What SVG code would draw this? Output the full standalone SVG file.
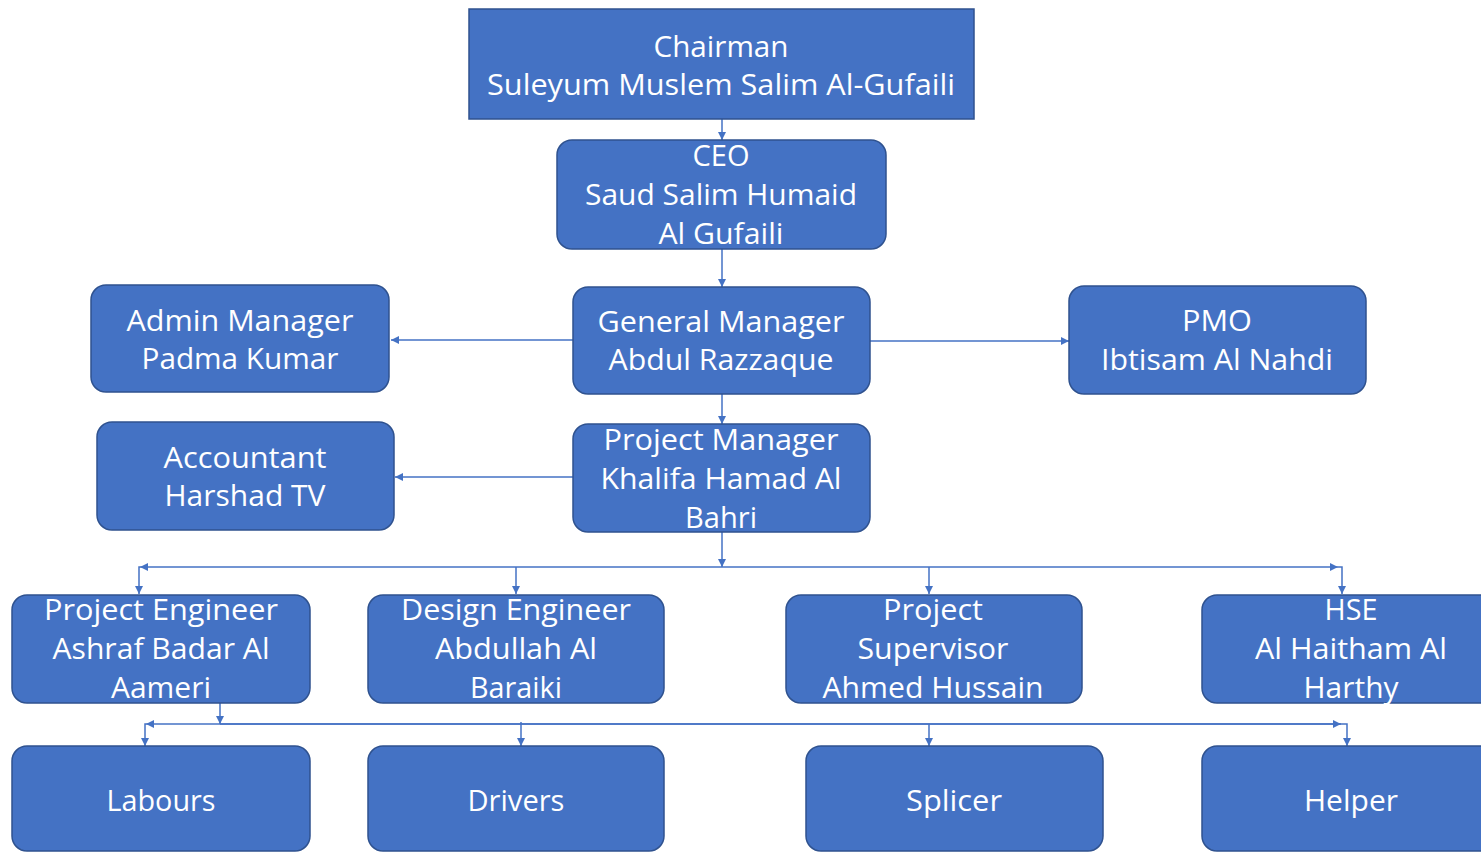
<svg xmlns="http://www.w3.org/2000/svg" width="1481" height="852" viewBox="0 0 1481 852">
<style>
.box{fill:#4472C4;stroke:#2F528F;stroke-width:1.5}
.t{font-family:"Open Sans","Liberation Sans",sans-serif;font-size:29px;fill:#FFFFFF;text-anchor:middle}
.c{fill:none;stroke:#4472C4;stroke-width:1.5}
</style>
<defs>
<marker id="ah" viewBox="0 0 8 8" refX="8" refY="4" markerWidth="8" markerHeight="8" markerUnits="userSpaceOnUse" orient="auto">
<path d="M0,0 L8,4 L0,8 z" fill="#4472C4"/>
</marker>
</defs>
<rect width="1481" height="852" fill="#FFFFFF"/>
<g id="connectors">
<path class="c" d="M722,119 V140" marker-end="url(#ah)"/>
<path class="c" d="M722,249 V287" marker-end="url(#ah)"/>
<path class="c" d="M573,340 H391" marker-end="url(#ah)"/>
<path class="c" d="M870,341 H1069" marker-end="url(#ah)"/>
<path class="c" d="M722,394 V424" marker-end="url(#ah)"/>
<path class="c" d="M573,477 H395" marker-end="url(#ah)"/>
<path class="c" d="M722,532 V567" marker-end="url(#ah)"/>
<path class="c" d="M722,567 H140" marker-end="url(#ah)"/>
<path class="c" d="M722,567 H1338" marker-end="url(#ah)"/>
<path class="c" d="M140,567 H139 V594" marker-end="url(#ah)"/>
<path class="c" d="M516,567 V594" marker-end="url(#ah)"/>
<path class="c" d="M929,567 V594" marker-end="url(#ah)"/>
<path class="c" d="M1338,567 H1342 V594" marker-end="url(#ah)"/>
<path class="c" d="M220,703 V724" marker-end="url(#ah)"/>
<path class="c" d="M1341,724 H146" marker-end="url(#ah)"/>
<path class="c" d="M146,724 H145 V746" marker-end="url(#ah)"/>
<path class="c" d="M521,722 V746" marker-end="url(#ah)"/>
<path class="c" d="M929,724 V746" marker-end="url(#ah)"/>
<path class="c" d="M220,724 H1341" marker-end="url(#ah)"/>
<path class="c" d="M1341,724 H1347 V746" marker-end="url(#ah)"/>
</g>
<g id="chairman">
<rect class="box" x="469" y="9" width="505" height="110"/>
<text class="t" x="721" y="57" textLength="135" lengthAdjust="spacingAndGlyphs">Chairman</text>
<text class="t" x="721" y="95" textLength="468" lengthAdjust="spacingAndGlyphs">Suleyum Muslem Salim Al-Gufaili</text>
</g>
<g id="ceo">
<rect class="box" x="557" y="140" width="329" height="109" rx="15"/>
<text class="t" x="721" y="166" textLength="57" lengthAdjust="spacingAndGlyphs">CEO</text>
<text class="t" x="721" y="205" textLength="272" lengthAdjust="spacingAndGlyphs">Saud Salim Humaid</text>
<text class="t" x="721" y="244" textLength="125" lengthAdjust="spacingAndGlyphs">Al Gufaili</text>
</g>
<g id="admin">
<rect class="box" x="91" y="285" width="298" height="107" rx="15"/>
<text class="t" x="240" y="331" textLength="227" lengthAdjust="spacingAndGlyphs">Admin Manager</text>
<text class="t" x="240" y="369" textLength="197" lengthAdjust="spacingAndGlyphs">Padma Kumar</text>
</g>
<g id="gm">
<rect class="box" x="573" y="287" width="297" height="107" rx="15"/>
<text class="t" x="721" y="332" textLength="247" lengthAdjust="spacingAndGlyphs">General Manager</text>
<text class="t" x="721" y="370" textLength="225" lengthAdjust="spacingAndGlyphs">Abdul Razzaque</text>
</g>
<g id="pmo">
<rect class="box" x="1069" y="286" width="297" height="108" rx="15"/>
<text class="t" x="1217" y="331" textLength="70" lengthAdjust="spacingAndGlyphs">PMO</text>
<text class="t" x="1217" y="370" textLength="232" lengthAdjust="spacingAndGlyphs">Ibtisam Al Nahdi</text>
</g>
<g id="accountant">
<rect class="box" x="97" y="422" width="297" height="108" rx="15"/>
<text class="t" x="245" y="468" textLength="163" lengthAdjust="spacingAndGlyphs">Accountant</text>
<text class="t" x="245" y="506" textLength="161" lengthAdjust="spacingAndGlyphs">Harshad TV</text>
</g>
<g id="pm">
<rect class="box" x="573" y="424" width="297" height="108" rx="15"/>
<text class="t" x="721" y="450" textLength="235" lengthAdjust="spacingAndGlyphs">Project Manager</text>
<text class="t" x="721" y="489" textLength="241" lengthAdjust="spacingAndGlyphs">Khalifa Hamad Al</text>
<text class="t" x="721" y="528" textLength="72" lengthAdjust="spacingAndGlyphs">Bahri</text>
</g>
<g id="pe">
<rect class="box" x="12" y="595" width="298" height="108" rx="15"/>
<text class="t" x="161" y="620" textLength="234" lengthAdjust="spacingAndGlyphs">Project Engineer</text>
<text class="t" x="161" y="659" textLength="217" lengthAdjust="spacingAndGlyphs">Ashraf Badar Al</text>
<text class="t" x="161" y="698" textLength="100" lengthAdjust="spacingAndGlyphs">Aameri</text>
</g>
<g id="de">
<rect class="box" x="368" y="595" width="296" height="108" rx="15"/>
<text class="t" x="516" y="620" textLength="230" lengthAdjust="spacingAndGlyphs">Design Engineer</text>
<text class="t" x="516" y="659" textLength="162" lengthAdjust="spacingAndGlyphs">Abdullah Al</text>
<text class="t" x="516" y="698" textLength="92" lengthAdjust="spacingAndGlyphs">Baraiki</text>
</g>
<g id="ps">
<rect class="box" x="786" y="595" width="296" height="108" rx="15"/>
<text class="t" x="933" y="620" textLength="100" lengthAdjust="spacingAndGlyphs">Project</text>
<text class="t" x="933" y="659" textLength="151" lengthAdjust="spacingAndGlyphs">Supervisor</text>
<text class="t" x="933" y="698" textLength="221" lengthAdjust="spacingAndGlyphs">Ahmed Hussain</text>
</g>
<g id="hse">
<rect class="box" x="1202" y="595" width="298" height="108" rx="15"/>
<text class="t" x="1351" y="620" textLength="53" lengthAdjust="spacingAndGlyphs">HSE</text>
<text class="t" x="1351" y="659" textLength="192" lengthAdjust="spacingAndGlyphs">Al Haitham Al</text>
<text class="t" x="1351" y="698" textLength="95" lengthAdjust="spacingAndGlyphs">Harthy</text>
</g>
<g id="labours">
<rect class="box" x="12" y="746" width="298" height="105" rx="15"/>
<text class="t" x="161" y="811" textLength="109" lengthAdjust="spacingAndGlyphs">Labours</text>
</g>
<g id="drivers">
<rect class="box" x="368" y="746" width="296" height="105" rx="15"/>
<text class="t" x="516" y="811" textLength="97" lengthAdjust="spacingAndGlyphs">Drivers</text>
</g>
<g id="splicer">
<rect class="box" x="806" y="746" width="297" height="105" rx="15"/>
<text class="t" x="954" y="811" textLength="96" lengthAdjust="spacingAndGlyphs">Splicer</text>
</g>
<g id="helper">
<rect class="box" x="1202" y="746" width="298" height="105" rx="15"/>
<text class="t" x="1351" y="811" textLength="94" lengthAdjust="spacingAndGlyphs">Helper</text>
</g>
</svg>
